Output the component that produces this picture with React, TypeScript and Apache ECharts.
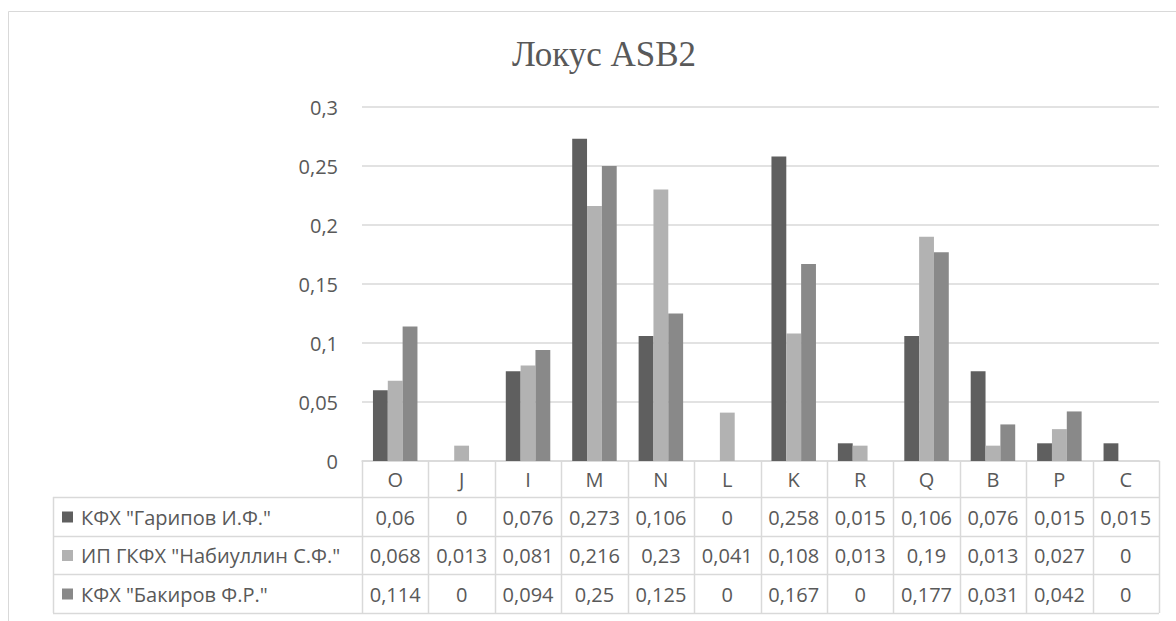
import React, { useEffect, useRef } from "react";
import * as echarts from "echarts";

const categories = ["O", "J", "I", "M", "N", "L", "K", "R", "Q", "B", "P", "C"];
const seriesNames = ['КФХ "Гарипов И.Ф."', 'ИП ГКФХ "Набиуллин С.Ф."', 'КФХ "Бакиров Ф.Р."'];
const garipov = [0.06, 0, 0.076, 0.273, 0.106, 0, 0.258, 0.015, 0.106, 0.076, 0.015, 0.015];
const nabiullin = [0.068, 0.013, 0.081, 0.216, 0.23, 0.041, 0.108, 0.013, 0.19, 0.013, 0.027, 0];
const bakirov = [0.114, 0, 0.094, 0.25, 0.125, 0, 0.167, 0, 0.177, 0.031, 0.042, 0];
const colors = ["#5f5f5f", "#b2b2b2", "#898989"];
const yTicks = [0, 0.05, 0.1, 0.15, 0.2, 0.25, 0.3];

const W = 1176;
const H = 621;
const G_LEFT = 362;
const G_RIGHT = 1159;
const G_TOP = 107;
const G_BOTTOM = 461;
const TABLE_LEFT = 53;
const ROW_LINES = [497, 536, 574, 613];
const LINE_COLOR = "#d9d9d9";
const TEXT_COLOR = "#595959";
const FONT = "'Open Sans', 'Noto Sans', sans-serif";
const FS = 20;

const fmt = (v: number) => String(Math.round(v * 1000) / 1000).replace(".", ",");

export default function App() {
  const ref = useRef<HTMLDivElement>(null);
  useEffect(() => {
    document.body.style.margin = "0";
    document.body.style.overflow = "hidden";
    if (!ref.current) return;
    const chart = echarts.init(ref.current, null, { renderer: "svg" });
    const data = [garipov, nabiullin, bakirov];
    const catW = (G_RIGHT - G_LEFT) / categories.length;
    const graphic: any[] = [];
    // outer frame (left and top visible)
    graphic.push({ type: "line", shape: { x1: 8.5, y1: 11.5, x2: 8.5, y2: H }, style: { stroke: LINE_COLOR, lineWidth: 1 } });
    graphic.push({ type: "line", shape: { x1: 8.5, y1: 11.5, x2: W, y2: 11.5 }, style: { stroke: LINE_COLOR, lineWidth: 1 } });
    // table horizontal lines
    ROW_LINES.forEach((y) => {
      graphic.push({ type: "line", shape: { x1: TABLE_LEFT, y1: y + 0.5, x2: G_RIGHT, y2: y + 0.5 }, style: { stroke: LINE_COLOR, lineWidth: 1.5 } });
    });
    // left vertical of table
    graphic.push({ type: "line", shape: { x1: TABLE_LEFT + 0.5, y1: ROW_LINES[0], x2: TABLE_LEFT + 0.5, y2: ROW_LINES[3] }, style: { stroke: LINE_COLOR, lineWidth: 1.5 } });
    // category vertical lines
    for (let i = 0; i <= categories.length; i++) {
      const x = Math.round(G_LEFT + i * catW) + 0.5;
      graphic.push({ type: "line", shape: { x1: x, y1: G_BOTTOM, x2: x, y2: ROW_LINES[3] }, style: { stroke: LINE_COLOR, lineWidth: 1.5 } });
    }
    // rows: legend + values
    data.forEach((arr, r) => {
      const yc = (ROW_LINES[r] + ROW_LINES[r + 1]) / 2 + 0.5;
      graphic.push({ type: "rect", shape: { x: 62, y: yc - 5.5, width: 11, height: 11 }, style: { fill: colors[r] } });
      graphic.push({
        type: "text",
        x: 81,
        y: yc,
        style: { text: seriesNames[r], fill: TEXT_COLOR, font: `${FS}px ${FONT}`, textAlign: "left", textVerticalAlign: "middle" },
      });
      arr.forEach((v, i) => {
        graphic.push({
          type: "text",
          x: G_LEFT + (i + 0.5) * catW,
          y: yc,
          style: { text: fmt(v), fill: TEXT_COLOR, font: `${FS}px ${FONT}`, textAlign: "center", textVerticalAlign: "middle" },
        });
      });
    });

    chart.setOption({
      animation: false,
      color: colors,
      title: {
        text: "Локус ASB2",
        left: 599,
        top: 32,
        textAlign: "center",
        textStyle: { fontFamily: "'Liberation Serif', 'Times New Roman', serif", fontSize: 35, fontWeight: "normal", color: TEXT_COLOR },
      },
      grid: { left: G_LEFT, right: W - G_RIGHT, top: G_TOP, bottom: H - G_BOTTOM, containLabel: false },
      xAxis: {
        type: "category",
        data: categories,
        axisLine: { lineStyle: { color: LINE_COLOR, width: 1.5 } },
        axisTick: { show: false },
        axisLabel: { margin: 18, verticalAlign: "middle", color: TEXT_COLOR, fontSize: FS, fontFamily: FONT, interval: 0 },
      },
      yAxis: {
        type: "value",
        min: 0,
        max: 0.3,
        interval: 0.05,
        axisLine: { show: false },
        axisTick: { show: false },
        splitLine: { lineStyle: { color: LINE_COLOR, width: 1.5 } },
        axisLabel: {
          margin: 24,
          color: TEXT_COLOR,
          fontSize: FS,
          fontFamily: FONT,
          formatter: (v: number) => fmt(yTicks.reduce((a, b) => (Math.abs(b - v) < Math.abs(a - v) ? b : a), 0)),
        },
      },
      series: data.map((arr, r) => ({
        name: seriesNames[r],
        type: "bar",
        data: arr,
        barGap: "0%",
        barCategoryGap: "33%",
        itemStyle: { color: colors[r] },
      })),
      graphic,
    });
    return () => chart.dispose();
  }, []);
  return <div ref={ref} style={{ width: W, height: H }} />;
}
